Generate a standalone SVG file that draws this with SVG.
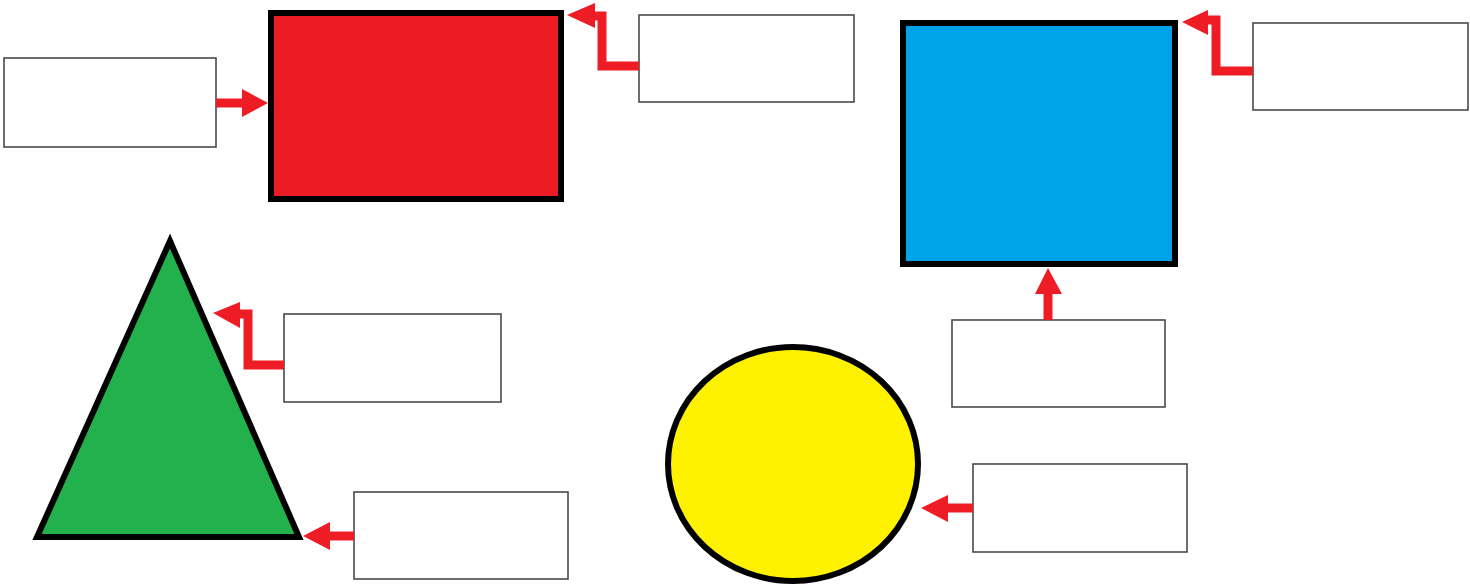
<svg xmlns="http://www.w3.org/2000/svg" width="1470" height="586" viewBox="0 0 1470 586">
<style>
.box{fill:#fff;stroke:#4a4a4a;stroke-width:1.6}
.shape{stroke:#000;stroke-width:6;stroke-linejoin:miter}
.wire{fill:none;stroke:#ee1c24;stroke-width:9;stroke-linejoin:miter}
.head{fill:#ee1c24}
</style>
<rect width="1470" height="586" fill="#fff"/>
<g id="red-rect"><rect class="shape" x="271" y="13" width="290" height="186" fill="#ed1c24"/></g>
<g id="blue-square"><rect class="shape" x="903" y="23" width="272" height="241" fill="#00a2e8"/></g>
<g id="green-triangle"><polygon class="shape" points="170,241 299,537 37,537" fill="#22b14c" stroke-width="5"/></g>
<g id="yellow-circle"><ellipse class="shape" cx="793" cy="464" rx="125" ry="117" fill="#fff200"/></g>
<g id="box-left"><rect class="box" x="4" y="58" width="212" height="89"/></g>
<g id="box-top"><rect class="box" x="639" y="15" width="215" height="87"/></g>
<g id="box-topright"><rect class="box" x="1253" y="23" width="215" height="87"/></g>
<g id="box-blue-below"><rect class="box" x="952" y="320" width="213" height="87"/></g>
<g id="box-triangle"><rect class="box" x="284" y="314" width="217" height="88"/></g>
<g id="box-bottom"><rect class="box" x="354" y="492" width="214" height="87"/></g>
<g id="box-circle"><rect class="box" x="973" y="464" width="214" height="88"/></g>
<g id="connectors">
<path class="wire" d="M216,103 H244"/>
<polygon class="head" points="268,103 242,89 242,117"/>
<path class="wire" d="M639,66 H602 V16 H592"/>
<polygon class="head" points="567,15 595,3 595,28"/>
<path class="wire" d="M1253,71 H1216 V20 H1205"/>
<polygon class="head" points="1182,22 1208,10 1208,35"/>
<path class="wire" d="M1048,320 V292"/>
<polygon class="head" points="1048,268 1035,294 1062,294"/>
<path class="wire" d="M284,365 H248 V314 H238"/>
<polygon class="head" points="213,313 240,302 240,328"/>
<path class="wire" d="M354,536 H328"/>
<polygon class="head" points="303,536 330,522 330,550"/>
<path class="wire" d="M973,508 H946"/>
<polygon class="head" points="921,508 948,495 948,522"/>
</g>
</svg>
